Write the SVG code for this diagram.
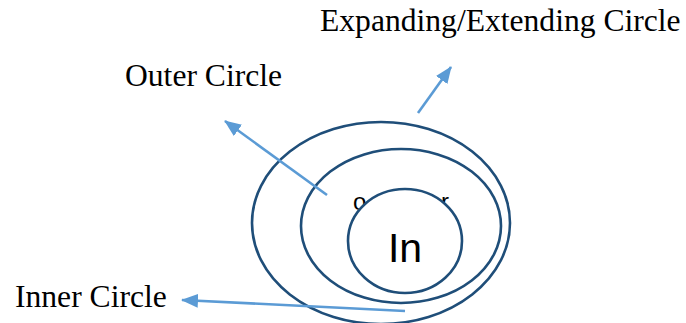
<svg xmlns="http://www.w3.org/2000/svg" width="686" height="323" viewBox="0 0 686 323">
<style>
.ring{fill:#ffffff;stroke:#1F4E79;stroke-width:2.6}
.lbl{font-family:"Liberation Serif","Times New Roman",serif;font-size:31.6px;fill:#000}
.inn{font-family:"Liberation Sans",Arial,sans-serif;fill:#000}
.arr{stroke:#5B9BD5;stroke-width:2.6;fill:none;marker-end:url(#ah)}
</style>
<defs>
<marker id="ah" markerUnits="userSpaceOnUse" markerWidth="18" markerHeight="14" refX="16" refY="7" orient="auto">
<path d="M0,0 L17,7 L0,14 z" fill="#5B9BD5"/>
</marker>
</defs>
<rect width="686" height="323" fill="#ffffff"/>
<g id="expanding-label"><text class="lbl" x="320" y="31">Expanding/Extending Circle</text></g>
<g id="outer-label"><text class="lbl" x="125" y="86">Outer Circle</text></g>
<g id="inner-label"><text class="lbl" x="15" y="307">Inner Circle</text></g>
<g id="expanding-circle"><ellipse class="ring" cx="381" cy="223" rx="129" ry="101"/></g>
<g id="outer-circle"><ellipse class="ring" cx="401" cy="226" rx="100" ry="77"/>
<text class="inn" x="353" y="210" font-size="24" textLength="96" lengthAdjust="spacing">outer</text></g>
<g id="inner-circle"><ellipse class="ring" cx="405" cy="241" rx="57" ry="52"/>
<text class="inn" x="405" y="262" font-size="41" text-anchor="middle">In</text></g>
<g id="connectors">
<line class="arr" x1="418" y1="113" x2="451" y2="67"/>
<line class="arr" x1="327" y1="195" x2="225" y2="121"/>
<line class="arr" x1="405" y1="311" x2="182" y2="300"/>
</g>
</svg>
